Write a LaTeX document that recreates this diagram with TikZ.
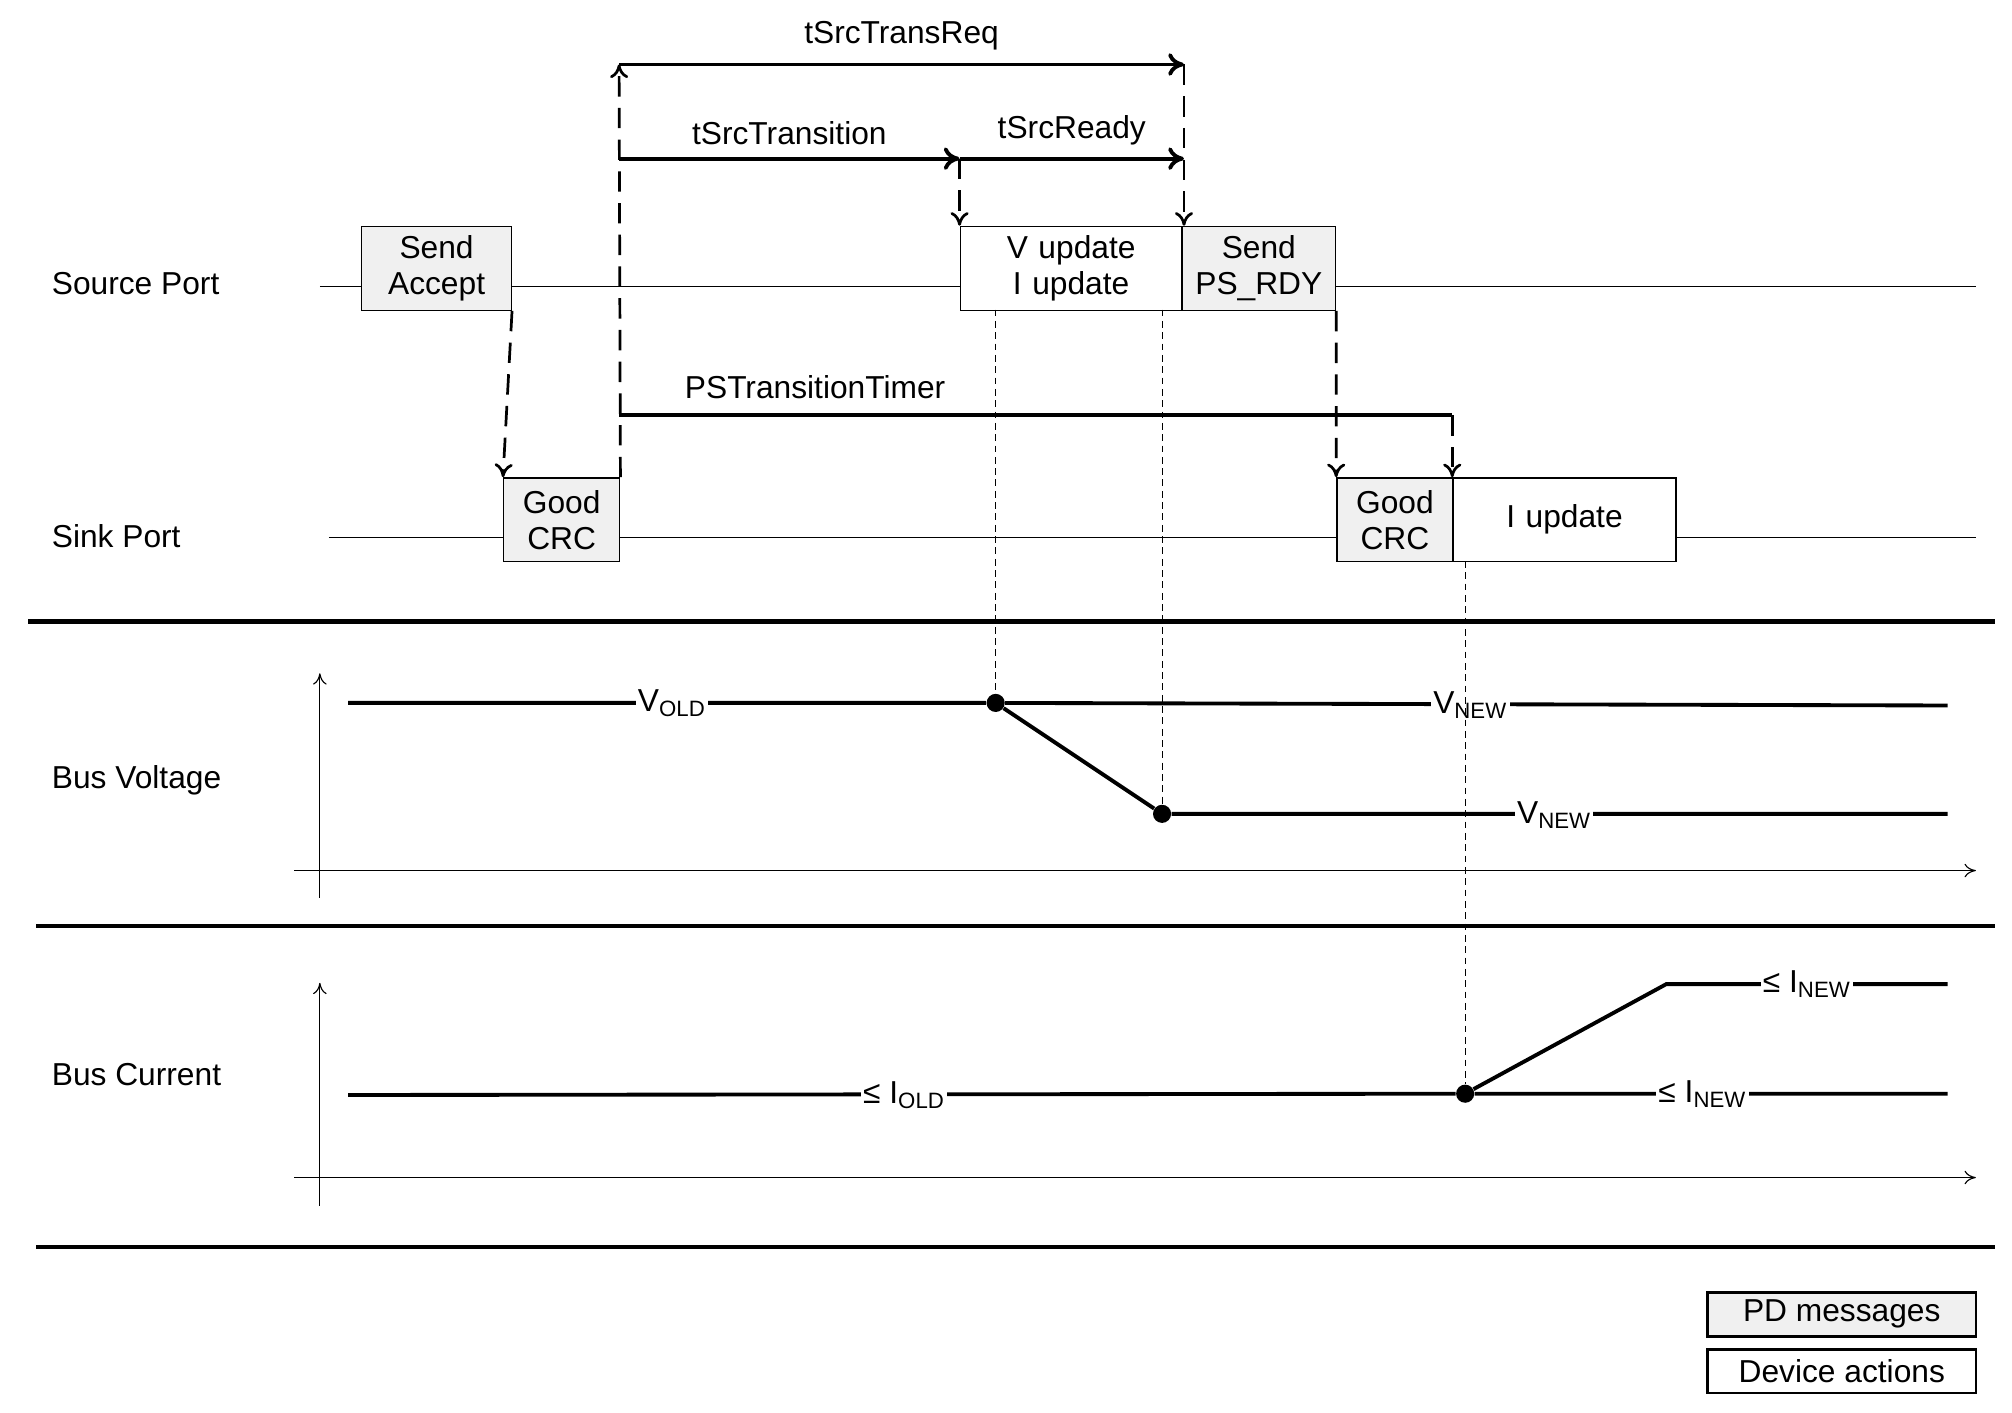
\documentclass[tikz,border=0pt]{standalone}
\usepackage{fontspec}
\setmainfont{Liberation Sans}
\usetikzlibrary{arrows.meta}
\begin{document}
\begin{tikzpicture}[x=0.02cm,y=-0.02cm,
  font=\fontsize{14}{16}\selectfont,
  msg/.style={draw,line width=0.6pt,fill=gray!12,inner sep=0pt,align=center},
  act/.style={draw,line width=0.6pt,fill=white,inner sep=0pt,align=center},
  thin/.style={line width=0.5pt},
  thk/.style={line width=1.7pt},
  sep/.style={line width=2pt},
  dsh/.style={line width=1.2pt,dash pattern=on 9pt off 5pt,-{To[length=6pt,width=8pt]}},
  tdsh/.style={line width=0.5pt,dash pattern=on 3pt off 2pt},
  tarr/.style={thk,-{To[length=7pt,width=10pt]}},
  lab/.style={fill=white,inner sep=1pt},
  dot/.style={circle,fill=black,inner sep=0pt,minimum size=8pt}]
\useasboundingbox (0,0) rectangle (1560,1095);
% lines
\draw[thin] (248,222) -- (1532,222);
\draw[thin] (255,417) -- (1532,417);
\node[anchor=west] (sp) at (34,220) {Source Port};
\node[anchor=west] (kp) at (34,416) {Sink Port};
\node[anchor=west] (bv) at (34,605) {Bus Voltage};
\node[anchor=west] (bc) at (34,833) {Bus Current};
% boxes
\node[msg,minimum width=110\pgflinewidth,anchor=north west,text width=2.2cm,minimum height=1.3cm] (sa) at (280,175) {Send\\Accept};
\node[msg,anchor=north west,text width=1.8cm,minimum height=1.3cm] (gc1) at (390,370) {Good\\CRC};
\node[act,anchor=north west,text width=3.44cm,minimum height=1.3cm] (vu) at (744,175) {V update\\I update};
\node[msg,anchor=north west,text width=2.38cm,minimum height=1.3cm] (ps) at (916,175) {Send\\PS\_RDY};
\node[msg,anchor=north west,text width=1.8cm,minimum height=1.3cm] (gc2) at (1036,370) {Good\\CRC};
\node[act,anchor=north west,text width=3.46cm,minimum height=1.3cm] (iu) at (1126,370) {I update};
% coordinates
\coordinate (a1) at (480,50); \coordinate (a2) at (918,50);
\coordinate (b1) at (480,123); \coordinate (b2) at (744,123); \coordinate (b3) at (918,123);
\coordinate (p1) at (480,322); \coordinate (p2) at (1126,322);
% timing arrows
\draw[tarr] (a1) -- node[above=2pt] {tSrcTransReq} (a2);
\draw[tarr] (b1) -- node[above=2pt] {tSrcTransition} (b2);
\draw[tarr] (b2) -- node[above=2pt] {tSrcReady} (b3);
\draw[thk] (p1) -- (p2);
\node (pst) at (632,300) {PSTransitionTimer};
% dashed arrows
\draw[dsh] (sa.south east) -- (gc1.north west);
\draw[dsh] (gc1.north east) -- (a1);
\draw[dsh] (a2) -- (918,175);
\draw[dsh] (b2) -- (vu.north west);
\draw[dsh] (ps.south east) -- (gc2.north west);
\draw[dsh] (p2) -- (iu.north west);
% separators
\draw[sep] (22,482) -- (1547,482);
\draw[sep] (28,718) -- (1547,718);
\draw[sep] (28,967) -- (1547,967);
% voltage
\draw[thin,-{To[length=5pt,width=6pt]}] (248,696) -- (248,522);
\draw[thin,-{To[length=5pt,width=6pt]}] (228,675) -- (1532,675);
\node[dot] (v1) at (772,545) {};
\node[dot] (v2) at (901,631) {};
\draw[tdsh] (772,240) -- (v1);
\draw[tdsh] (901,240) -- (v2);
\draw[thk] (270,545) -- (v1) -- (1510,547);
\draw[thk] (v1) -- (v2) -- (1510,631);
\node[lab] at (521,545) {V\textsubscript{OLD}};
\node[lab] at (1140,547) {V\textsubscript{NEW}};
\node[lab] at (1205,632) {V\textsubscript{NEW}};
% current
\draw[thin,-{To[length=5pt,width=6pt]}] (248,935) -- (248,762);
\draw[thin,-{To[length=5pt,width=6pt]}] (228,913) -- (1532,913);
\node[dot] (c1) at (1136,848) {};
\draw[tdsh] (1136,435) -- (c1);
\draw[thk] (270,849) -- (c1) -- (1510,848);
\draw[thk] (c1) -- (1292,763) -- (1510,763);
\node[lab] at (701,849) {≤ I\textsubscript{OLD}};
\node[lab] at (1320,848) {≤ I\textsubscript{NEW}};
\node[lab] at (1401,763) {≤ I\textsubscript{NEW}};
% legend
\node[msg,line width=1.2pt,anchor=north west,minimum width=4.16cm,minimum height=0.68cm] (l1) at (1323,1001) {PD messages};
\node[act,line width=1.2pt,anchor=north west,minimum width=4.16cm,minimum height=0.68cm] (l2) at (1323,1045) {Device actions};
\end{tikzpicture}
\end{document}
